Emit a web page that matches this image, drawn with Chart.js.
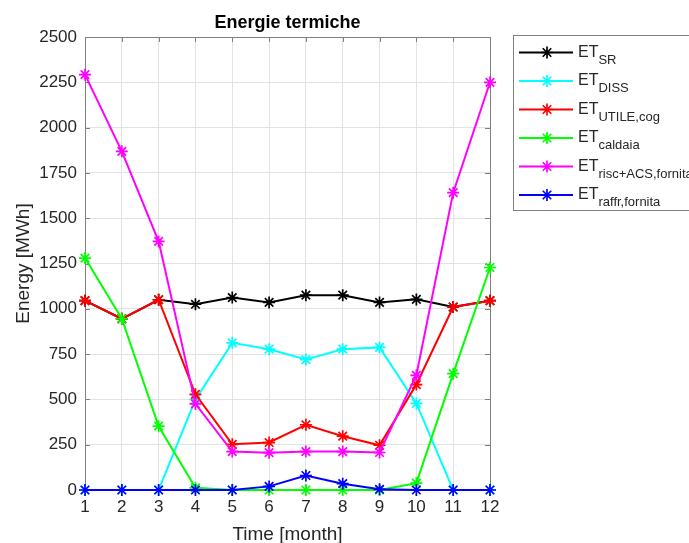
<!DOCTYPE html>
<html>
<head>
<meta charset="utf-8">
<script src="https://cdn.jsdelivr.net/npm/chart.js@4.4.0/dist/chart.umd.min.js"></script>
<style>
  html, body { margin: 0; padding: 0; background: #ffffff; }
  #wrap { position: relative; width: 689px; height: 543px; }
</style>
</head>
<body>
<div id="wrap"><canvas id="chart" width="689" height="543"></canvas></div>
<script>
// mesi e valori (MWh)
const months = [1, 2, 3, 4, 5, 6, 7, 8, 9, 10, 11, 12];
const etSR = [1045, 945, 1050, 1025, 1062, 1035, 1075, 1075, 1035, 1052, 1010, 1045];
const etDISS = [0, 0, 0, 500, 812, 777, 720, 777, 787, 478, 0, 0];
const etUtile = [1045, 945, 1050, 528, 252, 262, 360, 297, 247, 582, 1010, 1045];
const etCaldaia = [1280, 945, 352, 12, 0, 0, 0, 0, 0, 38, 642, 1228];
const etRisc = [2292, 1869, 1372, 475, 212, 206, 212, 212, 207, 633, 1641, 2250];
const etRaffr = [0, 0, 0, 0, 0, 20, 80, 35, 4, 0, 0, 0];

const yTicks = [0, 250, 500, 750, 1000, 1250, 1500, 1750, 2000, 2250, 2500];

// etichette legenda: testo base + pedice
const legendMain = ['ET', 'ET', 'ET', 'ET', 'ET', 'ET'];
const legendSub = ['SR', 'DISS', 'UTILE,cog', 'caldaia', 'risc+ACS,fornita', 'raffr,fornita'];
const seriesColors = ['#000000', '#00ffff', '#ff0000', '#00ff00', '#ff00ff', '#0000ff'];
const seriesData = [etSR, etDISS, etUtile, etCaldaia, etRisc, etRaffr];

const FONT = '"Liberation Sans", Arial, Helvetica, sans-serif';
const TXT = '#262626';

// dataset: l'ultimo disegnato sopra (come in MATLAB)
const datasets = seriesData.map((d, i) => ({
  label: legendMain[i] + legendSub[i],
  data: d.map((v, k) => ({ x: months[k], y: v })),
  borderColor: seriesColors[i],
  backgroundColor: seriesColors[i],
  borderWidth: 2,
  pointStyle: 'star',
  pointRadius: 6,
  pointBorderWidth: 1.7,
  pointHoverRadius: 6,
  tension: 0,
  clip: false,
  order: seriesData.length - i
}));

function drawStar(ctx, x, y, r) {
  const d = r * Math.SQRT1_2;
  ctx.beginPath();
  ctx.moveTo(x - r, y); ctx.lineTo(x + r, y);
  ctx.moveTo(x, y - r); ctx.lineTo(x, y + r);
  ctx.moveTo(x - d, y - d); ctx.lineTo(x + d, y + d);
  ctx.moveTo(x - d, y + d); ctx.lineTo(x + d, y - d);
  ctx.stroke();
}

// assi, riquadro, titolo e legenda disegnati a mano
const matlabPlugin = {
  id: 'matlabStyle',
  beforeDatasetsDraw(chart) {
    const ctx = chart.ctx;
    const a = chart.chartArea;
    const xs = chart.scales.x, ys = chart.scales.y;
    ctx.save();
    ctx.strokeStyle = '#7f7f7f';
    ctx.lineWidth = 1;
    ctx.strokeRect(Math.round(a.left) + 0.5, Math.round(a.top) + 0.5,
      Math.round(a.right - a.left), Math.round(a.bottom - a.top));
    const tl = 5;
    ctx.beginPath();
    months.forEach(m => {
      const px = Math.round(xs.getPixelForValue(m)) + 0.5;
      ctx.moveTo(px, a.bottom); ctx.lineTo(px, a.bottom - tl);
      ctx.moveTo(px, a.top); ctx.lineTo(px, a.top + tl);
    });
    yTicks.forEach(v => {
      const py = Math.round(ys.getPixelForValue(v)) + 0.5;
      ctx.moveTo(a.left, py); ctx.lineTo(a.left + tl, py);
      ctx.moveTo(a.right, py); ctx.lineTo(a.right - tl, py);
    });
    ctx.stroke();
    ctx.restore();
  },
  afterDraw(chart) {
    const ctx = chart.ctx;
    const a = chart.chartArea;
    ctx.save();
    ctx.fillStyle = '#000000';
    ctx.font = 'bold 18px ' + FONT;
    ctx.textAlign = 'center';
    ctx.textBaseline = 'alphabetic';
    ctx.fillText('Energie termiche', (a.left + a.right) / 2, 28);

    ctx.fillStyle = TXT;
    ctx.font = '19px ' + FONT;
    ctx.fillText('Time [month]', (a.left + a.right) / 2, 540);
    ctx.save();
    ctx.translate(29, (a.top + a.bottom) / 2);
    ctx.rotate(-Math.PI / 2);
    ctx.fillText('Energy [MWh]', 0, 0);
    ctx.restore();

    // legenda
    const bx = 513, by = 35, bw = 200, bh = 175;
    ctx.fillStyle = '#ffffff';
    ctx.fillRect(bx, by, bw, bh);
    ctx.strokeStyle = '#7f7f7f';
    ctx.lineWidth = 1;
    ctx.strokeRect(bx + 0.5, by + 0.5, bw, bh);
    legendSub.forEach((sub, i) => {
      const ly = 52.5 + i * 28.5;
      ctx.strokeStyle = seriesColors[i];
      ctx.lineWidth = 2;
      ctx.beginPath();
      ctx.moveTo(519, ly); ctx.lineTo(573, ly);
      ctx.stroke();
      ctx.lineWidth = 1.7;
      drawStar(ctx, 547, ly, 6);
      ctx.fillStyle = TXT;
      ctx.textAlign = 'left';
      ctx.font = '16px ' + FONT;
      ctx.fillText(legendMain[i], 578, ly + 4);
      const w = ctx.measureText(legendMain[i]).width;
      ctx.font = '13px ' + FONT;
      ctx.fillText(sub, 578 + w, ly + 11);
    });
    ctx.restore();
  }
};

new Chart(document.getElementById('chart'), {
  type: 'line',
  data: { datasets: datasets },
  plugins: [matlabPlugin],
  options: {
    responsive: false,
    animation: false,
    events: [],
    layout: { padding: { left: 0, top: 37, right: 199, bottom: 0 } },
    plugins: {
      legend: { display: false },
      title: { display: false },
      tooltip: { enabled: false }
    },
    scales: {
      x: {
        type: 'linear',
        min: 1,
        max: 12,
        afterFit(s) { s.height = 53; },
        afterBuildTicks(s) { s.ticks = months.map(v => ({ value: v })); },
        grid: { color: '#e3e3e3', drawTicks: false },
        border: { display: false },
        ticks: { color: TXT, font: { family: FONT, size: 17 }, padding: 7, maxRotation: 0,
          callback: v => String(v) }
      },
      y: {
        min: 0,
        max: 2500,
        afterFit(s) { s.width = 85; },
        afterBuildTicks(s) { s.ticks = yTicks.map(v => ({ value: v })); },
        grid: { color: '#e3e3e3', drawTicks: false },
        border: { display: false },
        ticks: { color: TXT, font: { family: FONT, size: 17 }, padding: 8,
          callback: v => String(v) }
      }
    }
  }
});
</script>
</body>
</html>
